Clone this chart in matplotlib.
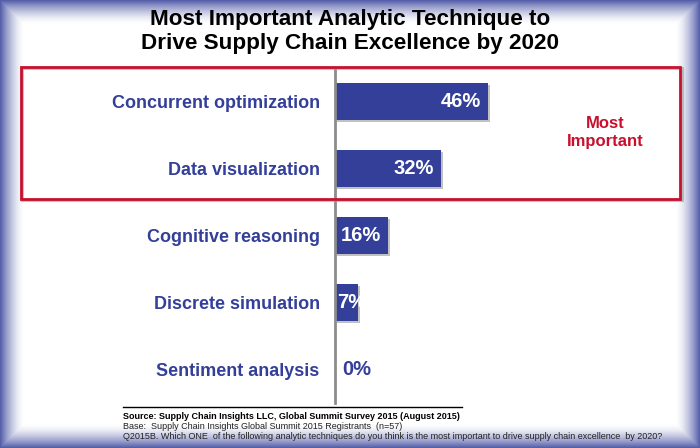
import numpy as np
import matplotlib
matplotlib.use("Agg")
import matplotlib.pyplot as plt
import matplotlib.patches as mpatches
import matplotlib.lines as mlines
import matplotlib.patheffects as pe

categories = [
    "Concurrent optimization",
    "Data visualization",
    "Cognitive reasoning",
    "Discrete simulation",
    "Sentiment analysis",
]
values = [46, 32, 16, 7, 0]
value_labels = ["46%", "32%", "16%", "7%", "0%"]

title_lines = ["Most Important Analytic Technique to", "Drive Supply Chain Excellence by 2020"]
box_label = "Most\nImportant"
footer_source = "Source: Supply Chain Insights LLC, Global Summit Survey 2015 (August 2015)"
footer_base = "Base:  Supply Chain Insights Global Summit 2015 Registrants  (n=57)"
footer_question = ("Q2015B. Which ONE  of the following analytic techniques do you think is the most "
                   "important to drive supply chain excellence  by 2020?")

BLUE = "#333F99"
RED = "#C8102E"
SANS = ["Liberation Sans", "DejaVu Sans"]

W, H = 700, 448
fig = plt.figure(figsize=(W / 100, H / 100), dpi=100)


def fx(px):
    return px / W


def fy(px):
    # pixel row from top -> figure fraction
    return 1 - px / H


# --- background vignette ---
bg = fig.add_axes([0, 0, 1, 1], zorder=-5)
yy, xx = np.mgrid[0:H, 0:W]
d = np.minimum(np.minimum(xx, W - 1 - xx), np.minimum(yy, H - 1 - yy)).astype(float)
alpha = np.clip(1 - d / 24.0, 0, 1) ** 1.6
img = np.zeros((H, W, 4))
img[..., 0] = 85 / 255
img[..., 1] = 95 / 255
img[..., 2] = 170 / 255
img[..., 3] = alpha
bg.imshow(np.ones((H, W, 3)), extent=[0, W, H, 0])
bg.imshow(img, extent=[0, W, H, 0])
bg.set_xlim(0, W)
bg.set_ylim(H, 0)
bg.axis("off")

# --- bar chart ---
ax = fig.add_axes([fx(335), fy(403), fx(345), 335 / H])
ax.patch.set_alpha(0)
y = np.arange(len(categories))
bars = ax.barh(y, values, height=0.56, color=BLUE, zorder=3)
for b in bars:
    b.set_path_effects([pe.SimplePatchShadow(offset=(1.5, -1.5), shadow_rgbFace="#999999", alpha=0.6),
                        pe.Normal()])
ax.set_xlim(0, 345 / 3.32)
ax.set_ylim(len(categories) - 0.5, -0.5)
ax.set_yticks(y)
ax.set_yticklabels(categories, fontsize=13, fontweight="bold", color=BLUE, family=SANS)
ax.tick_params(axis="y", length=0, pad=11)
ax.set_xticks([])
for s in ["top", "right", "bottom"]:
    ax.spines[s].set_visible(False)
ax.spines["left"].set_color("#8C8C8C")
ax.spines["left"].set_linewidth(2)
ax.spines["left"].set_zorder(4)

for yi, v, lab in zip(y, values, value_labels):
    if v >= 10:
        ax.annotate(lab, (v, yi), xytext=(-5, 0), textcoords="offset points",
                    ha="right", va="center", color="white", fontsize=14.5,
                    fontweight="bold", family=SANS, zorder=5)
    elif v > 0:
        ax.annotate(lab, (0, yi), xytext=(1.5, 0), textcoords="offset points",
                    ha="left", va="center", color="white", fontsize=14.5,
                    fontweight="bold", family=SANS, zorder=5)
    else:
        ax.annotate(lab, (0, yi), xytext=(5, 0), textcoords="offset points",
                    ha="left", va="center", color=BLUE, fontsize=14.5,
                    fontweight="bold", family=SANS, zorder=5)

# --- red "most important" box (with a soft grey shadow) ---
shadow = mpatches.Rectangle((fx(22.5), fy(200.5)), fx(659), 132 / H, transform=fig.transFigure,
                            fill=False, edgecolor="#A0A0A0", linewidth=2, alpha=0.7, zorder=5)
fig.add_artist(shadow)
box = mpatches.Rectangle((fx(21), fy(199)), fx(659), 132 / H, transform=fig.transFigure,
                         fill=False, edgecolor=RED, linewidth=2, zorder=6)
fig.add_artist(box)
fig.text(fx(605), fy(132), box_label, ha="center", va="center", color=RED,
         fontsize=12, fontweight="bold", family=SANS, linespacing=1.25)

# --- title ---
for line, base in zip(title_lines, [24.5, 48.5]):
    fig.text(0.5, fy(base), line, ha="center", va="baseline", fontsize=16.2,
             fontweight="bold", family=SANS)

# --- footer ---
fig.add_artist(mlines.Line2D([fx(123), fx(462)], [fy(407), fy(407)],
                             transform=fig.transFigure, color="black", linewidth=1))
fig.text(fx(123), fy(419), footer_source, ha="left", va="baseline", fontsize=6.5,
         fontweight="bold", family=SANS)
fig.text(fx(123), fy(429), footer_base, ha="left", va="baseline", fontsize=6.5, family=SANS,
         color="#222222")
fig.text(fx(123), fy(439), footer_question, ha="left", va="baseline", fontsize=6.5, family=SANS,
         color="#222222")

fig.savefig("out.png", dpi=100)
